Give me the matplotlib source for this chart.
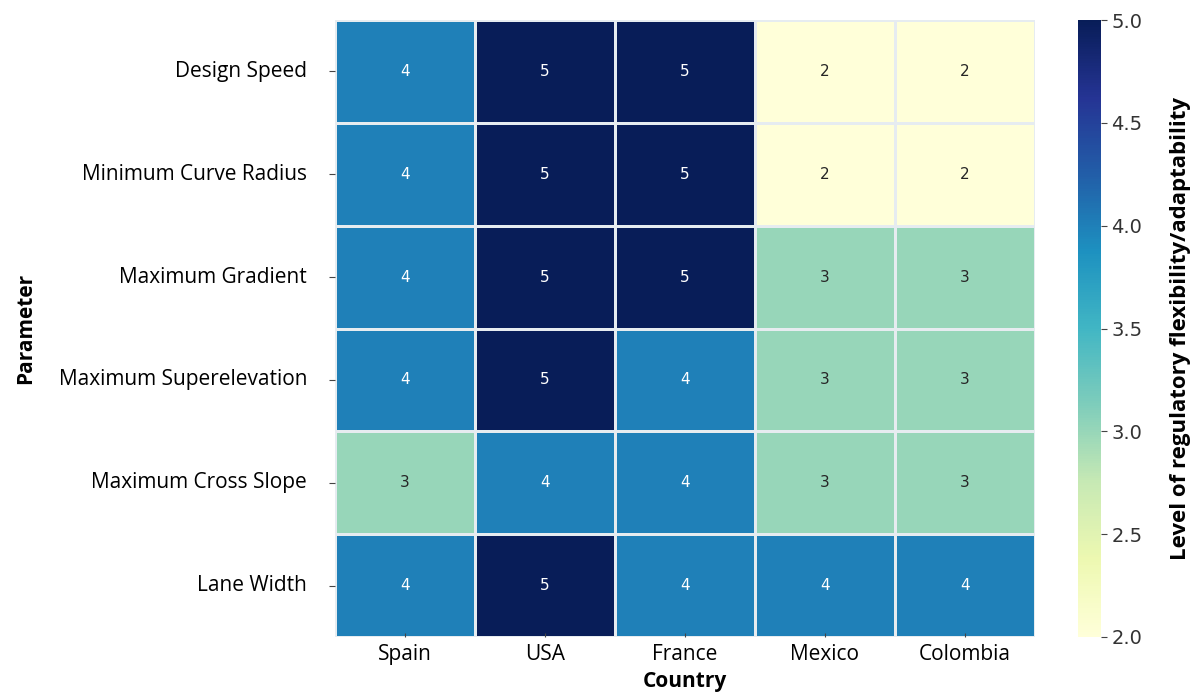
import matplotlib
matplotlib.use("Agg")
import matplotlib.pyplot as plt
import seaborn as sns
import numpy as np
import pandas as pd

countries = ["Spain", "USA", "France", "Mexico", "Colombia"]
parameters = ["Design Speed", "Minimum Curve Radius", "Maximum Gradient",
              "Maximum Superelevation", "Maximum Cross Slope", "Lane Width"]
spain = [4, 4, 4, 4, 3, 4]
usa = [5, 5, 5, 5, 4, 5]
france = [5, 5, 5, 4, 4, 4]
mexico = [2, 2, 3, 3, 3, 4]
colombia = [2, 2, 3, 3, 3, 4]

df = pd.DataFrame({"Spain": spain, "USA": usa, "France": france,
                   "Mexico": mexico, "Colombia": colombia}, index=parameters)

fig = plt.figure(figsize=(11.92, 6.96), dpi=100)
ax = fig.add_axes([335 / 1192, 59 / 696, 700 / 1192, 617 / 696])
cax = fig.add_axes([1078 / 1192, 59 / 696, 23 / 1192, 617 / 696])

sns.heatmap(df, ax=ax, cbar_ax=cax, cmap="YlGnBu", vmin=2, vmax=5,
            annot=True, fmt="d", linewidths=0.8, linecolor="#e6ecf0",
            annot_kws={"fontsize": 11, "family": "DejaVu Sans"})

ax.set_xticklabels(countries, fontsize=15, family="Open Sans", rotation=0)
ax.set_yticklabels(parameters, fontsize=15, family="Open Sans", rotation=0)
ax.tick_params(axis="y", length=4, color="#444444", pad=16)
ax.tick_params(axis="x", length=3, direction="in", color="#444444", pad=5)
ax.set_xlabel("Country", fontsize=15, family="Open Sans", fontweight="bold", labelpad=4)
ax.set_ylabel("Parameter", fontsize=15, family="Open Sans", fontweight="bold", labelpad=16)

cax.tick_params(labelsize=14, length=4, color="#444444", labelcolor="#333333")
cax.set_ylabel("Level of regulatory flexibility/adaptability", fontsize=16,
               family="Open Sans", fontweight="bold", labelpad=20)

fig.savefig("out.png", dpi=100)
